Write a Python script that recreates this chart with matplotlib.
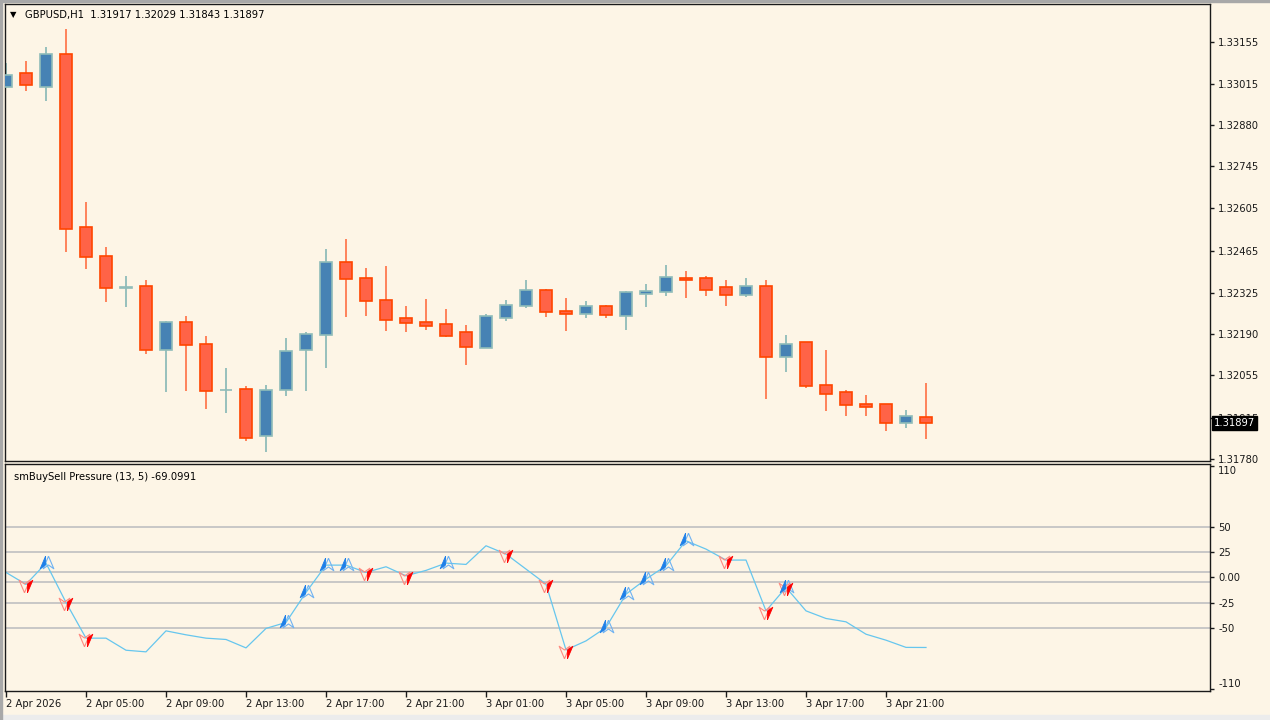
import numpy as np
import matplotlib
matplotlib.use("Agg")
import matplotlib.pyplot as plt
from matplotlib.patches import Rectangle

# ---------------------------------------------------------------------
# Data (GBPUSD H1, 2 Apr 01:00 .. 3 Apr 23:00)
# ---------------------------------------------------------------------
opens = [1.33006, 1.33053, 1.33006, 1.33114, 1.32543, 1.32448, 1.32344, 1.32349, 1.32139, 1.32229,
         1.32159, 1.32006, 1.32011, 1.31853, 1.32006, 1.32139, 1.32188, 1.32427, 1.32377, 1.32303,
         1.32242, 1.32230, 1.32225, 1.32197, 1.32146, 1.32245, 1.32282, 1.32336, 1.32267, 1.32258,
         1.32282, 1.32249, 1.32324, 1.32329, 1.32374, 1.32374, 1.32345, 1.32320, 1.32349, 1.32114,
         1.32164, 1.32024, 1.31998, 1.31961, 1.31961, 1.31898, 1.31917]
highs = [1.33086, 1.33092, 1.33138, 1.33195, 1.32626, 1.32477, 1.32382, 1.32368, 1.32233, 1.32249,
         1.32183, 1.32080, 1.32018, 1.32021, 1.32179, 1.32197, 1.32471, 1.32505, 1.32410, 1.32415,
         1.32282, 1.32307, 1.32274, 1.32220, 1.32257, 1.32302, 1.32368, 1.32340, 1.32311, 1.32299,
         1.32286, 1.32332, 1.32356, 1.32418, 1.32398, 1.32382, 1.32368, 1.32377, 1.32368, 1.32187,
         1.32166, 1.32137, 1.32005, 1.31988, 1.31961, 1.31939, 1.32029]
lows = [1.33003, 1.32991, 1.32960, 1.32461, 1.32405, 1.32297, 1.32280, 1.32126, 1.31999, 1.32003,
        1.31944, 1.31930, 1.31837, 1.31801, 1.31986, 1.32003, 1.32079, 1.32247, 1.32250, 1.32202,
        1.32198, 1.32205, 1.32181, 1.32090, 1.32144, 1.32234, 1.32275, 1.32247, 1.32201, 1.32242,
        1.32243, 1.32205, 1.32280, 1.32317, 1.32309, 1.32317, 1.32284, 1.32312, 1.31978, 1.32065,
        1.32012, 1.31936, 1.31920, 1.31920, 1.31870, 1.31880, 1.31843]
closes = [1.33046, 1.33011, 1.33114, 1.32538, 1.32445, 1.32341, 1.32346, 1.32139, 1.32230, 1.32155,
          1.32003, 1.32007, 1.31849, 1.32006, 1.32134, 1.32192, 1.32427, 1.32373, 1.32300, 1.32237,
          1.32226, 1.32217, 1.32183, 1.32147, 1.32249, 1.32287, 1.32336, 1.32263, 1.32258, 1.32282,
          1.32254, 1.32329, 1.32332, 1.32378, 1.32368, 1.32336, 1.32320, 1.32350, 1.32114, 1.32159,
          1.32018, 1.31994, 1.31956, 1.31949, 1.31898, 1.31920, 1.31897]

# smBuySell Pressure (13, 5)
pressure = [4.9, -6.9, 14.1, -24.7, -59.9, -59.9, -71.8, -73.4, -52.7, -56.6,
            -59.9, -61.2, -69.5, -50.3, -44.4, -14.8, 12.1, 12.1, 4.9, 10.5,
            1.6, 6.9, 14.1, 12.8, 31.2, 23.0, 8.2, -6.6, -71.5, -62.6,
            -49.4, -16.5, -1.7, 11.5, 36.1, 27.9, 17.1, 17.1, -33.0, -9.9,
            -33.0, -40.5, -43.8, -56.0, -61.9, -69.0, -69.0991]
buy_bars = [2, 14, 15, 16, 17, 22, 30, 31, 32, 33, 34, 39]
sell_bars = [1, 3, 4, 18, 20, 25, 27, 28, 36, 38, 39]

price_ticks = [1.33155, 1.33015, 1.32880, 1.32745, 1.32605, 1.32465, 1.32325,
               1.32190, 1.32055, 1.31915, 1.31780]
ind_ticks = [110, 50, 25, 0, -25, -50, -110]
ind_tick_labels = ["110", "50", "25", "0.00", "-25", "-50", "-110"]
ind_levels = [50, 25, 5, -5, -25, -50]
time_labels = ["2 Apr 2026", "2 Apr 05:00", "2 Apr 09:00", "2 Apr 13:00", "2 Apr 17:00",
               "2 Apr 21:00", "3 Apr 01:00", "3 Apr 05:00", "3 Apr 09:00", "3 Apr 13:00",
               "3 Apr 17:00", "3 Apr 21:00"]

# ---------------------------------------------------------------------
# Style
# ---------------------------------------------------------------------
BG = "#fdf5e6"
BULL = "#4682b4"
BULL_EDGE = "#8fbcb9"
BEAR = "#ff6347"
BEAR_EDGE = "#ff4500"
BEAR_WICK = "#ff7a50"
LINE = "#66c6ee"
FS = 7.2

plt.rcParams["font.family"] = ["DejaVu Sans"]

o = np.array(opens)
h = np.array(highs)
l = np.array(lows)
c = np.array(closes)
x = np.arange(len(o))
up = c >= o

fig = plt.figure(figsize=(12.7, 7.2), dpi=100, facecolor=BG)
W = (1210 - 4.5) / 1270
L0 = 4.5 / 1270
ax = fig.add_axes([L0, 1 - 461 / 720, W, 457 / 720])
ax2 = fig.add_axes([L0, 29 / 720, W, (691 - 463.5) / 720])

for a in (ax, ax2):
    a.set_facecolor(BG)
    for s in a.spines.values():
        s.set_color("#1a1a1a")
        s.set_linewidth(1)
    a.set_xlim(-0.075, 60.2)

# ---------------------------------------------------------------------
# Candles
# ---------------------------------------------------------------------
ax.vlines(x[up], l[up], h[up], color=BULL_EDGE, lw=1.3, zorder=2)
ax.vlines(x[~up], l[~up], h[~up], color=BEAR_WICK, lw=1.3, zorder=2)
body_lo = np.minimum(o, c)
body_h = np.abs(c - o)
ax.bar(x[up], body_h[up], bottom=body_lo[up], width=0.64, color=BULL,
       edgecolor=BULL_EDGE, linewidth=1.2, zorder=3)
ax.bar(x[~up], body_h[~up], bottom=body_lo[~up], width=0.64, color=BEAR,
       edgecolor=BEAR_EDGE, linewidth=1.2, zorder=3)

ax.set_ylim(1.31772, 1.33279)
ax.yaxis.tick_right()
ax.set_yticks(price_ticks)
ax.set_yticklabels([f"{v:.5f}" for v in price_ticks])
ax.tick_params(axis="y", length=3, width=1, pad=3, labelsize=FS, colors="#1a1a1a")
ax.set_xticks([])

ax.annotate(f"{closes[-1]:.5f}", xy=(1.0035, closes[-1]), xycoords=("axes fraction", "data"),
            ha="left", va="center", fontsize=FS, color="white", zorder=10,
            bbox=dict(boxstyle="square,pad=0.2", fc="black", ec="black"),
            annotation_clip=False)

fig.text(10 / 1270, 1 - 15 / 720, "\u25bc", fontsize=6, va="center", ha="left", color="black")
fig.text(25 / 1270, 1 - 15 / 720,
         f"GBPUSD,H1  {opens[-1]:.5f} {highs[-1]:.5f} {lows[-1]:.5f} {closes[-1]:.5f}",
         fontsize=FS, va="center", ha="left", color="black")

# ---------------------------------------------------------------------
# Indicator
# ---------------------------------------------------------------------
p = np.array(pressure)
for lv in ind_levels:
    ax2.axhline(lv, color="#c4c4c4", lw=1.3, zorder=1)
ax2.plot(x, p, color=LINE, lw=0.9, zorder=2)

up_full = [(0, 1), (0.85, -1), (0, -0.4), (-0.85, -1), (0, 1)]
up_half = [(0, 1), (0, -0.4), (-0.85, -1), (0, 1)]
dn_full = [(0, -1), (0.85, 1), (0, 0.4), (-0.85, 1), (0, -1)]
dn_half = [(0, -1), (0.85, 1), (0, 0.4), (0, -1)]

bx = np.array(buy_bars)
sx = np.array(sell_bars)
ax2.plot(bx + 0.12, p[bx] + 1.5, ls="none", marker=up_full, ms=9, mfc="none",
         mec="#6fb2f2", mew=0.8, zorder=4)
ax2.plot(bx - 0.05, p[bx] + 1.5, ls="none", marker=up_half, ms=9, mfc="#1e7fe8",
         mec="#1e7fe8", mew=0.6, zorder=5)
ax2.plot(sx - 0.12, p[sx] - 2.0, ls="none", marker=dn_full, ms=9, mfc="none",
         mec="#ff8a80", mew=0.8, zorder=4)
ax2.plot(sx + 0.05, p[sx] - 2.0, ls="none", marker=dn_half, ms=9, mfc="#ff0000",
         mec="#ff0000", mew=0.6, zorder=5)

ax2.set_ylim(-112, 112.3)
ax2.yaxis.tick_right()
ax2.set_yticks(ind_ticks)
ax2.set_yticklabels(ind_tick_labels)
ax2.tick_params(axis="y", length=3, width=1, pad=3, labelsize=FS, colors="#1a1a1a")
ylabels = ax2.get_yticklabels()
ylabels[0].set_verticalalignment("top")
ylabels[-1].set_verticalalignment("bottom")

ax2.set_xticks(np.arange(0, len(time_labels) * 4, 4))
ax2.set_xticklabels(time_labels, ha="left")
ax2.tick_params(axis="x", length=4, width=1, pad=2, labelsize=FS, colors="#1a1a1a")

ax2.text(10 / 1205.5, 1 - 14 / 227.5, f"smBuySell Pressure (13, 5) {pressure[-1]:.4f}",
         transform=ax2.transAxes, fontsize=FS, va="center", ha="left", color="black")

# window frame
fig.patches.append(Rectangle((0, 1 - 2 / 720), 1, 2 / 720, transform=fig.transFigure,
                             color="#a8a8a8", zorder=0))
fig.patches.append(Rectangle((0, 0), 1, 5 / 720, transform=fig.transFigure,
                             color="#ececec", zorder=0))
fig.patches.append(Rectangle((0, 0), 2 / 1270, 1, transform=fig.transFigure,
                             color="#a8a8a8", zorder=0))

fig.savefig("out.png", dpi=100, facecolor=BG)
